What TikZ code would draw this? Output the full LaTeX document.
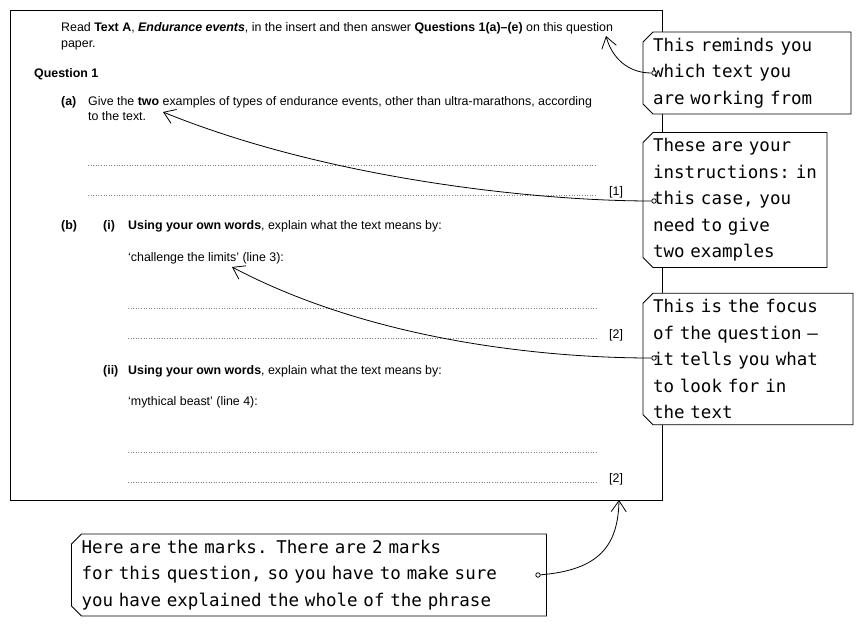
\documentclass[tikz,border=0pt]{standalone}
\usepackage{fontspec}
\setmainfont{Liberation Sans}
\newfontfamily\handfont{DejaVu Sans Mono}
\usetikzlibrary{shapes.misc,arrows.meta}
\tikzset{
  paper/.style={font=\fontsize{12.4}{13}\selectfont, inner sep=0pt, anchor=base west},
  note/.style={chamfered rectangle, chamfered rectangle corners={north west,south west},
    chamfered rectangle xsep=5pt, chamfered rectangle ysep=5pt,
    draw, thick, fill=white, align=left, font=\handfont\fontsize{17.5}{26.5}\selectfont,
    inner xsep=5pt, inner ysep=1pt},
  answer/.style={dotted, black!50, line width=0.6pt},
  pointer/.style={thick, -{Straight Barb[length=11pt,width=15pt]}},
  dot/.style={circle, draw, thick, fill=white, inner sep=1.6pt}
}
\begin{document}
\begin{tikzpicture}[x=1pt,y=-1pt]
\useasboundingbox (0,0) rectangle (856,627);
% exam paper
\draw[thick] (10,10) rectangle (662,500);
\node[paper] (intro) at (61,31) {Read \textbf{Text A}, \textbf{\textit{Endurance events}}, in the insert and then answer \textbf{Questions 1(a)--(e)} on this question};
\node[paper] at (61,47) {paper.};
\node[paper] at (34,77) {\textbf{Question 1}};
\node[paper] at (61,105) {\textbf{(a)}};
\node[paper] (qa) at (88,105) {Give the \textbf{two} examples of types of endurance events, other than ultra-marathons, according};
\node[paper] at (88,120) {to the text.};
\draw[answer] (88,165) -- (597,165);
\draw[answer] (88,195) -- (597,195);
\node[paper] at (609,195) {[1]};
\node[paper] at (61,229) {\textbf{(b)}};
\node[paper] at (103,229) {\textbf{(i)}};
\node[paper] at (128,229) {\textbf{Using your own words}, explain what the text means by:};
\node[paper] at (128,261) {`challenge the limits' (line 3):};
\draw[answer] (128,308) -- (597,308);
\draw[answer] (128,338) -- (597,338);
\node[paper] at (609,338) {[2]};
\node[paper] at (103,374) {\textbf{(ii)}};
\node[paper] at (128,374) {\textbf{Using your own words}, explain what the text means by:};
\node[paper] at (128,405) {`mythical beast' (line 4):};
\draw[answer] (128,452) -- (597,452);
\draw[answer] (128,482) -- (597,482);
\node[paper] at (609,482) {[2]};
% callouts
\node[note, text width=188pt] (remind) at (747,73) {This reminds you\\which text you\\are working from};
\node[note, text width=164pt] (instr) at (735,200) {These are your\\instructions:~in\\this case, you\\need to give\\two examples};
\node[note, text width=190pt] (focus) at (748,359) {This is the focus\\of the question –\\it tells you what\\to look for in\\the text};
\node[note, text width=455pt] (marks) at (309,575) {Here are the marks. There are 2 marks\\for this question, so you have to make sure\\you have explained the whole of the phrase};
% connectors
\node[dot] (d1) at (654,73) {};
\node[dot] (d2) at (654,201) {};
\node[dot] (d3) at (654,358) {};
\node[dot] (d4) at (538,575) {};
\coordinate (t1) at (606,36);
\coordinate (t2) at (163,112);
\coordinate (t3) at (232,267);
\coordinate (t4) at (619,500);
\draw[pointer] (d1) .. controls (628,73) and (612,58) .. (t1);
\draw[pointer] (d2) .. controls (540,201) and (330,180) .. (t2);
\draw[pointer] (d3) .. controls (560,358) and (380,345) .. (t3);
\draw[pointer] (d4) .. controls (600,570) and (618,545) .. (t4);
\end{tikzpicture}
\end{document}
